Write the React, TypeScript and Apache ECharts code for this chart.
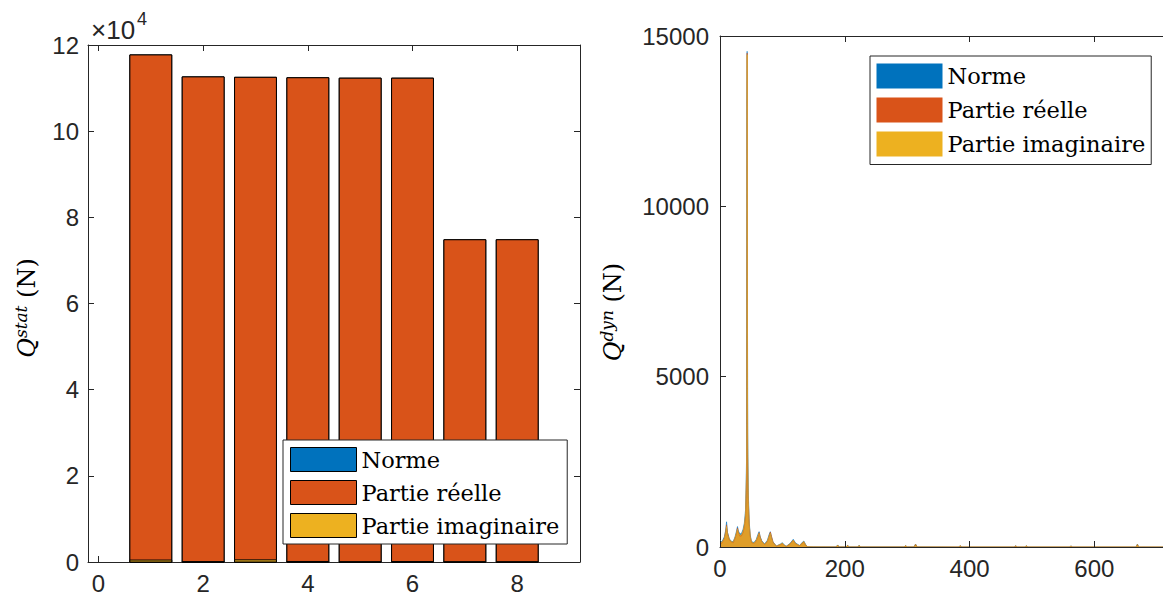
import React, { useEffect, useRef } from "react";
import * as echarts from "echarts";

// ---- Left chart: static loads (N) per element ----
const barPositions = [1, 2, 3, 4, 5, 6, 7, 8];
const statNorme = [117700, 112600, 112500, 112400, 112300, 112300, 74800, 74800];
const statReelle = [117700, 112600, 112500, 112400, 112300, 112300, 74800, 74800];
const statImag = [450, 80, 500, 120, 60, 100, 50, 40];
const leftXTicks = [0, 2, 4, 6, 8];

// ---- Right chart: dynamic spectrum (N) vs frequency ----
const freq = [
  0, 3, 7, 9, 10.5, 12, 15, 18, 21, 24, 26.5, 28, 29.5, 32, 34.5, 37, 39, 41, 42.5, 43, 43.5, 44, 44.5, 45.5, 47,
  48.5, 50.5, 54.5, 58, 61, 62.7, 64.5, 67, 71.5, 76, 79, 80.7, 82.5, 85, 90.3, 97, 100, 103, 106, 112, 117.4, 121,
  127.5, 132, 134.4, 137, 140, 150, 186, 188.6, 191, 202, 204.5, 207, 221, 223, 225, 295, 297.5, 300, 311, 313.4,
  316, 383, 385, 387, 472, 473.8, 476, 489, 491, 493, 560, 562.6, 565, 667, 669, 671, 710,
];
const dynNorme = [
  200, 150, 300, 480, 740, 430, 240, 170, 155, 290, 470, 600, 470, 380, 400, 520, 700, 1100, 2500, 12980, 14550, 6830,
  3370, 1500, 700, 350, 160, 130, 220, 380, 450, 300, 180, 90, 200, 380, 450, 300, 150, 30, 90, 127, 60, 20, 100, 225,
  120, 45, 140, 176, 80, 10, 5, 4, 60, 4, 4, 50, 4, 4, 50, 4, 4, 40, 4, 4, 88, 4, 3, 40, 3, 3, 40, 3, 3, 40, 3, 3, 30,
  3, 3, 88, 3, 2,
];
const dynReelle = [
  150, 110, 260, 460, 650, 420, 210, 150, 120, 250, 400, 560, 430, 320, 330, 430, 600, 900, 2000, 3000, 14500, 2780,
  2000, 1250, 620, 310, 130, 100, 180, 300, 420, 290, 160, 70, 160, 330, 440, 320, 140, 25, 70, 100, 50, 15, 80, 200,
  100, 35, 120, 150, 60, 5, 3, 3, 50, 3, 3, 45, 3, 3, 40, 3, 3, 35, 3, 3, 80, 3, 2, 35, 2, 2, 35, 2, 2, 30, 2, 2, 25,
  2, 2, 75, 2, 1,
];
const dynImag = [
  180, 130, 250, 400, 600, 370, 220, 160, 140, 270, 430, 520, 420, 340, 360, 470, 650, 1000, 2200, 3630, 14450, 4660,
  3000, 1300, 620, 300, 140, 110, 200, 340, 400, 260, 160, 80, 180, 340, 400, 260, 130, 25, 80, 110, 50, 15, 90, 200,
  100, 40, 120, 160, 70, 8, 4, 3, 55, 3, 3, 40, 3, 3, 45, 3, 3, 35, 3, 3, 70, 3, 2, 35, 2, 2, 30, 2, 2, 35, 2, 2, 25,
  2, 2, 70, 2, 1,
];

const seriesNames = ["Norme", "Partie réelle", "Partie imaginaire"];
const colors = ["#0072BD", "#D95319", "#EDB120"];

const AXIS_COLOR = "#262626";
const TICK_FONT = "Liberation Sans";
const SERIF = "DejaVu Serif";

export default function App() {
  const ref = useRef<HTMLDivElement>(null);

  useEffect(() => {
    if (!ref.current) return;
    const chart = echarts.init(ref.current, undefined, { renderer: "svg" });

    const barRender = (color: string) => (params: any, api: any) => {
      const x = api.value(0);
      const v = api.value(1);
      const a = api.coord([x - 0.4, v]);
      const b = api.coord([x + 0.4, 0]);
      return {
        type: "rect",
        shape: {
          x: a[0],
          y: Math.min(a[1], b[1]),
          width: b[0] - a[0],
          height: Math.abs(b[1] - a[1]),
        },
        style: { fill: color, stroke: "#000", lineWidth: 1 },
      };
    };

    const statData = [statNorme, statReelle, statImag];
    const dynData = [dynNorme, dynReelle, dynImag];

    const axisLine = { show: true, onZero: false, lineStyle: { color: AXIS_COLOR, width: 1 } };
    const tickStyle = { show: true, inside: true, length: 6, lineStyle: { color: AXIS_COLOR, width: 1 } };
    const labelStyle = { color: AXIS_COLOR, fontFamily: TICK_FONT, fontSize: 24 };
    const plain = (v: number) => String(v);

    const ylabelRich = {
      q: { fontFamily: SERIF, fontStyle: "italic", fontSize: 24, lineHeight: 30, fill: "#000" },
      s: { fontFamily: SERIF, fontStyle: "italic", fontSize: 17, lineHeight: 17, verticalAlign: "top", fill: "#000" },
      n: { fontFamily: SERIF, fontSize: 24, lineHeight: 30, fill: "#000" },
    };

    const option: any = {
      animation: false,
      backgroundColor: "#fff",
      grid: [
        { left: 88, top: 45, width: 492, height: 517 },
        { left: 720, top: 36, width: 446, height: 511 },
      ],
      xAxis: [
        {
          type: "value",
          gridIndex: 0,
          min: -0.2,
          max: 9.2,
          axisLine,
          axisTick: { ...tickStyle, customValues: leftXTicks },
          axisLabel: { ...labelStyle, margin: 9, customValues: leftXTicks, formatter: plain },
          splitLine: { show: false },
        },
        {
          type: "value",
          gridIndex: 0,
          position: "top",
          min: -0.2,
          max: 9.2,
          axisLine,
          axisTick: { ...tickStyle, customValues: leftXTicks },
          axisLabel: { show: false, customValues: leftXTicks },
          splitLine: { show: false },
        },
        {
          type: "value",
          gridIndex: 1,
          min: 0,
          max: 710,
          interval: 200,
          z: 6,
          axisLine,
          axisTick: tickStyle,
          axisLabel: { ...labelStyle, margin: 9, showMaxLabel: false, formatter: plain },
          splitLine: { show: false },
        },
        {
          type: "value",
          gridIndex: 1,
          position: "top",
          min: 0,
          max: 710,
          interval: 200,
          axisLine,
          axisTick: tickStyle,
          axisLabel: { show: false },
          splitLine: { show: false },
        },
      ],
      yAxis: [
        {
          type: "value",
          gridIndex: 0,
          min: 0,
          max: 120000,
          interval: 20000,
          axisLine,
          axisTick: tickStyle,
          axisLabel: { ...labelStyle, margin: 9, formatter: (v: number) => String(v / 10000) },
          splitLine: { show: false },
        },
        {
          type: "value",
          gridIndex: 0,
          position: "right",
          min: 0,
          max: 120000,
          interval: 20000,
          axisLine,
          axisTick: tickStyle,
          axisLabel: { show: false },
          splitLine: { show: false },
        },
        {
          type: "value",
          gridIndex: 1,
          min: 0,
          max: 15000,
          interval: 5000,
          axisLine,
          axisTick: tickStyle,
          axisLabel: { ...labelStyle, margin: 11, formatter: plain },
          splitLine: { show: false },
        },
      ],
      legend: [
        {
          left: 283,
          top: 440,
          orient: "vertical",
          icon: "rect",
          itemWidth: 66,
          itemHeight: 24,
          itemGap: 8,
          padding: [7, 8, 6, 7],
          backgroundColor: "#fff",
          borderColor: AXIS_COLOR,
          borderWidth: 1,
          textStyle: { fontFamily: SERIF, fontSize: 22.5, color: "#000", lineHeight: 24 },
          data: seriesNames.map((n, i) => ({
            name: n,
            itemStyle: { color: colors[i], borderColor: "#000", borderWidth: 1 },
          })),
        },
        {
          left: 870,
          top: 56,
          orient: "vertical",
          icon: "rect",
          itemWidth: 66,
          itemHeight: 25,
          itemGap: 9,
          padding: [7.5, 6, 8, 6.5],
          backgroundColor: "#fff",
          borderColor: AXIS_COLOR,
          borderWidth: 1,
          textStyle: { fontFamily: SERIF, fontSize: 22.5, color: "#000", lineHeight: 25 },
          data: seriesNames.map((n, i) => ({
            name: n,
            itemStyle: { color: colors[i], borderWidth: 0 },
          })),
        },
      ],
      series: [
        ...seriesNames.map((n, i) => ({
          type: "custom",
          name: n,
          xAxisIndex: 0,
          yAxisIndex: 0,
          itemStyle: { color: colors[i], borderColor: "#000", borderWidth: 1 },
          encode: { x: 0, y: 1 },
          renderItem: barRender(colors[i]),
          data: barPositions.map((x, k) => [x, statData[i][k]]),
        })),
        ...seriesNames.map((n, i) => ({
          type: "line",
          name: n,
          xAxisIndex: 2,
          yAxisIndex: 2,
          symbol: "none",
          showSymbol: false,
          lineStyle: { color: colors[i], width: 0.6 },
          itemStyle: { color: colors[i] },
          areaStyle: { color: colors[i], opacity: 0.75 },
          data: freq.map((f, k) => [f, dynData[i][k]]),
        })),
      ],
      graphic: [
        {
          type: "text",
          x: 91,
          y: 30,
          style: {
            text: "×10",
            fill: AXIS_COLOR,
            font: `26px "${TICK_FONT}"`,
            textAlign: "left",
            textVerticalAlign: "middle",
          },
        },
        {
          type: "text",
          x: 137,
          y: 19,
          style: {
            text: "4",
            fill: AXIS_COLOR,
            font: `18px "${TICK_FONT}"`,
            textAlign: "left",
            textVerticalAlign: "middle",
          },
        },
        {
          type: "text",
          x: 27,
          y: 308,
          rotation: Math.PI / 2,
          style: {
            text: "{q|Q}{s|stat}{n| (N)}",
            fill: "#000",
            align: "center",
            verticalAlign: "middle",
            rich: ylabelRich,
          },
        },
        {
          type: "text",
          x: 613,
          y: 312,
          rotation: Math.PI / 2,
          style: {
            text: "{q|Q}{s|dyn}{n| (N)}",
            fill: "#000",
            align: "center",
            verticalAlign: "middle",
            rich: ylabelRich,
          },
        },
      ],
    };

    chart.setOption(option);
    return () => chart.dispose();
  }, []);

  return (
    <div
      ref={ref}
      style={{ position: "fixed", left: 0, top: 0, width: 1163, height: 603, background: "#fff" }}
    />
  );
}
